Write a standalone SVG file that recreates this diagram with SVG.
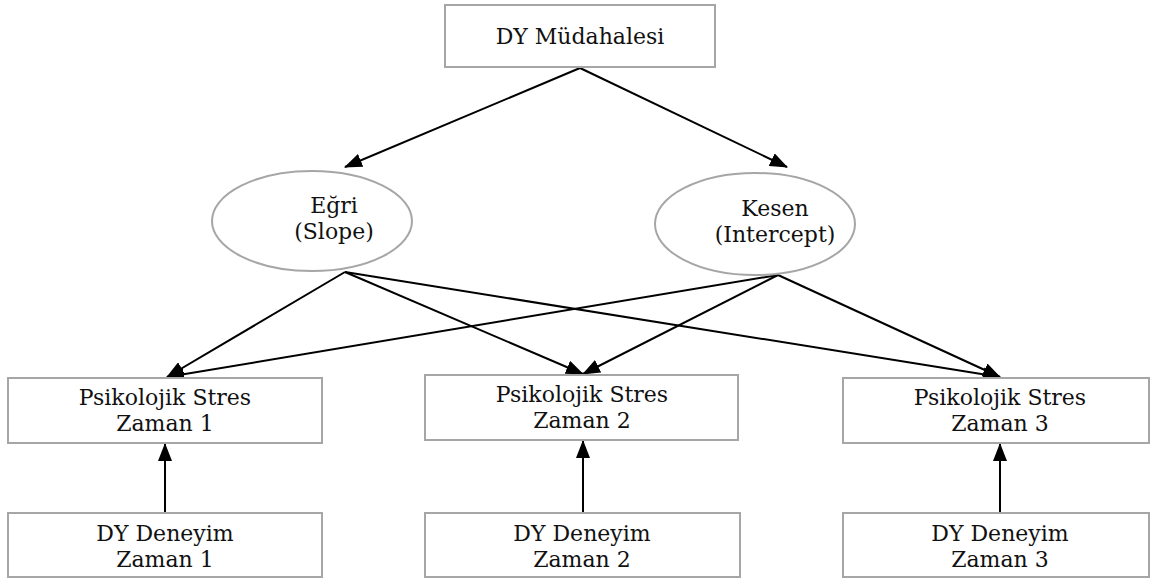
<svg xmlns="http://www.w3.org/2000/svg" width="1150" height="579" viewBox="0 0 1150 579">
<style>
.box{fill:#fff;stroke:#a6a6a6;stroke-width:2}
.ell{fill:#fff;stroke:#a6a6a6;stroke-width:2}
.t{font-family:"DejaVu Serif","Liberation Serif",serif;font-size:22px;fill:#111;text-anchor:middle}
.c{stroke:#000;stroke-width:2;fill:none;marker-end:url(#ah)}
</style>
<defs>
<marker id="ah" markerWidth="9" markerHeight="7" refX="8.5" refY="3.5" orient="auto" markerUnits="strokeWidth">
<path d="M0,0 L9,3.5 L0,7 Z" fill="#000"/>
</marker>
</defs>
<rect width="1150" height="579" fill="#fff"/>
<g id="connectors">
<line class="c" x1="580" y1="68" x2="345" y2="167"/>
<line class="c" x1="580" y1="68" x2="787" y2="167"/>
<line class="c" x1="345" y1="272" x2="167" y2="377"/>
<line class="c" x1="345" y1="272" x2="583" y2="374"/>
<line class="c" x1="345" y1="272" x2="1000" y2="377"/>
<line class="c" x1="778" y1="275" x2="167" y2="377"/>
<line class="c" x1="778" y1="275" x2="583" y2="374"/>
<line class="c" x1="778" y1="275" x2="1000" y2="377"/>
<line class="c" x1="165" y1="513" x2="165" y2="444"/>
<line class="c" x1="583" y1="513" x2="583" y2="441"/>
<line class="c" x1="1000" y1="513" x2="1000" y2="444"/>
</g>
<g id="dy-mudahalesi"><rect class="box" x="445" y="5" width="270" height="62"/><text class="t" x="580" y="44">DY Müdahalesi</text></g>
<g id="egri"><ellipse class="ell" cx="312" cy="221" rx="100" ry="50"/><text class="t" x="334" y="213">Eğri</text><text class="t" x="334" y="239">(Slope)</text></g>
<g id="kesen"><ellipse class="ell" cx="755" cy="224" rx="100" ry="51"/><text class="t" x="775" y="216">Kesen</text><text class="t" x="775" y="242">(Intercept)</text></g>
<g id="psik1"><rect class="box" x="8" y="378" width="314" height="65"/><text class="t" x="165" y="405">Psikolojik Stres</text><text class="t" x="165" y="431">Zaman 1</text></g>
<g id="psik2"><rect class="box" x="425" y="375" width="313" height="65"/><text class="t" x="582" y="402">Psikolojik Stres</text><text class="t" x="582" y="428">Zaman 2</text></g>
<g id="psik3"><rect class="box" x="843" y="378" width="306" height="65"/><text class="t" x="1000" y="405">Psikolojik Stres</text><text class="t" x="1000" y="431">Zaman 3</text></g>
<g id="dy1"><rect class="box" x="8" y="513" width="314" height="64"/><text class="t" x="165" y="541">DY Deneyim</text><text class="t" x="165" y="567">Zaman 1</text></g>
<g id="dy2"><rect class="box" x="425" y="513" width="315" height="64"/><text class="t" x="582" y="541">DY Deneyim</text><text class="t" x="582" y="567">Zaman 2</text></g>
<g id="dy3"><rect class="box" x="843" y="513" width="306" height="64"/><text class="t" x="1000" y="541">DY Deneyim</text><text class="t" x="1000" y="567">Zaman 3</text></g>
</svg>
